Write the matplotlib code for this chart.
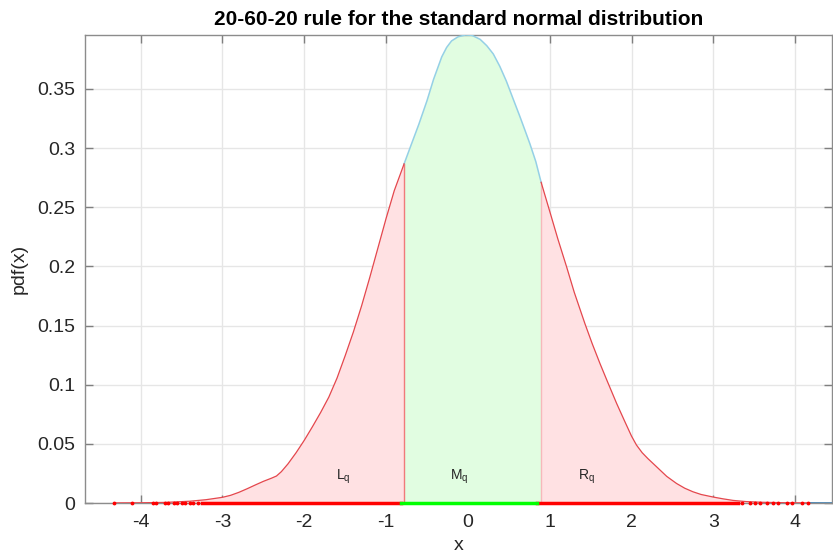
## 20-60-20 rule plot for the standard normal distribution

## Importing Modules
import matplotlib
matplotlib.use('Agg')
import matplotlib.pyplot as plt
import numpy as np

plt.rcParams['font.family'] = ['Liberation Sans', 'DejaVu Sans']

## Data
# kernel density estimate of the sample (x, pdf)
x_pdf = [-4.68, -4.3, -4.0, -3.7, -3.4, -3.2, -3.0, -2.9, -2.8, -2.7, -2.6, -2.5,
         -2.4, -2.34, -2.28, -2.2, -2.1, -2.0, -1.9, -1.8, -1.7, -1.6, -1.5, -1.4,
         -1.3, -1.2, -1.1, -1.0, -0.9, -0.78, -0.7, -0.6, -0.5, -0.42, -0.32, -0.26,
         -0.2, -0.12, -0.03, 0.05, 0.15, 0.23, 0.31, 0.39, 0.47, 0.55, 0.636, 0.7,
         0.758, 0.83, 0.895, 1.0, 1.1, 1.207, 1.3, 1.43, 1.52, 1.614, 1.7, 1.818,
         1.92, 2.0, 2.06, 2.13, 2.2, 2.3, 2.43, 2.55, 2.65, 2.75, 2.85, 3.0,
         3.12, 3.24, 3.4, 3.6, 3.9, 4.16, 4.45]
y_pdf = [0.0, 0.0001, 0.0002, 0.0005, 0.0015, 0.0028, 0.0048, 0.0065, 0.009, 0.012, 0.0152, 0.0183,
         0.021, 0.0228, 0.0265, 0.033, 0.0425, 0.053, 0.0645, 0.0765, 0.0895, 0.1055, 0.1245, 0.1445,
         0.1665, 0.1905, 0.2155, 0.2405, 0.264, 0.2866, 0.3015, 0.32, 0.34, 0.358, 0.377, 0.385,
         0.3905, 0.394, 0.3955, 0.3952, 0.3918, 0.3865, 0.3795, 0.369, 0.3565, 0.342, 0.3265, 0.3145,
         0.3035, 0.2885, 0.271, 0.2465, 0.223, 0.1994, 0.178, 0.1516, 0.1345, 0.1179, 0.1035, 0.0841,
         0.0685, 0.0565, 0.049, 0.0425, 0.0375, 0.031, 0.0225, 0.0165, 0.0125, 0.0095, 0.0072, 0.005,
         0.0035, 0.0022, 0.0012, 0.0006, 0.0002, 0.0001, 0.0]

# 20% / 80% quantiles (edges of the shaded parts)
q_lo = -0.78
q_hi = 0.895

# sample points drawn as a rug on the x axis
rug_left = [-4.32, -4.10, -3.85, -3.81, -3.70, -3.66, -3.59, -3.56, -3.50, -3.46, -3.40, -3.36, -3.30]
rug_right = [3.35, 3.45, 3.51, 3.57, 3.65, 3.73, 3.79, 3.90, 3.96, 4.08, 4.16]
rug_left_dense = [-3.25, -0.82]
rug_mid = [-0.82, 0.84]
rug_right_dense = [0.84, 3.3]

x_ticks = [-4, -3, -2, -1, 0, 1, 2, 3, 4]
y_ticks = [0, 0.05, 0.1, 0.15, 0.2, 0.25, 0.3, 0.35]
y_ticklabels = ['0', '0.05', '0.1', '0.15', '0.2', '0.25', '0.3', '0.35']

x = np.array(x_pdf)
y = np.array(y_pdf)
left = x <= q_lo
mid = (x >= q_lo) & (x <= q_hi)
right = x >= q_hi

## Plotting
fig = plt.figure(figsize=(8.33, 5.57), dpi=100)
ax = fig.add_axes([85/833, 54/557, 747/833, 468/557])

# shaded regions
ax.fill_between(x[left], 0, y[left], facecolor='#ffe1e3', edgecolor='none', zorder=2)
ax.fill_between(x[mid], 0, y[mid], facecolor='#e1fde1', edgecolor='none', zorder=2)
ax.fill_between(x[right], 0, y[right], facecolor='#ffe1e3', edgecolor='none', zorder=2)
ax.plot([q_lo, q_lo], [0, y[x == q_lo][0]], color='#f07a7a', lw=1, zorder=3)
ax.plot([q_hi, q_hi], [0, y[x == q_hi][0]], color='#f7b8bb', lw=1, zorder=3)

# density curve: blue outside the sample range, light blue in the middle, red on the tails
base_l = x <= rug_left[0]
base_r = x >= rug_right[-1]
ax.plot(x[base_l], y[base_l], color='#4f86b0', lw=1.2, zorder=3)
ax.plot(x[base_r], y[base_r], color='#4f86b0', lw=1.2, zorder=3)
ax.plot(x[mid], y[mid], color='#95d0e6', lw=1.1, zorder=4)
tail_l = left & (x >= -4.3)
tail_r = right & (x <= 4.16)
ax.plot(x[tail_l], y[tail_l], color='#e4474d', lw=0.9, zorder=4)
ax.plot(x[tail_r], y[tail_r], color='#e4474d', lw=0.9, zorder=4)

# rug of the samples
ax.plot(rug_left_dense, [0, 0], color='#ff0000', lw=2.5, zorder=5, clip_on=False)
ax.plot(rug_right_dense, [0, 0], color='#ff0000', lw=2.5, zorder=5, clip_on=False)
ax.plot(rug_mid, [0, 0], color='#00ff00', lw=2.5, zorder=5, clip_on=False)
ax.plot(rug_left, np.zeros(len(rug_left)), '.', color='#ff0000', ms=3.5, zorder=5, clip_on=False)
ax.plot(rug_right, np.zeros(len(rug_right)), '.', color='#ff0000', ms=3.5, zorder=5, clip_on=False)

# region labels
ax.text(-1.61, 0.022, r'L$_\mathregular{q}$', fontsize=10, color='#262626', va='center', zorder=6)
ax.text(-0.22, 0.022, r'M$_\mathregular{q}$', fontsize=10, color='#262626', va='center', zorder=6)
ax.text(1.345, 0.022, r'R$_\mathregular{q}$', fontsize=10, color='#262626', va='center', zorder=6)

# Plot Formatting
ax.set_xlim(-4.68, 4.45)
ax.set_ylim(0, 0.3955)
ax.set_xticks(x_ticks)
ax.set_xticklabels([str(t) for t in x_ticks])
ax.set_yticks(y_ticks)
ax.set_yticklabels(y_ticklabels)
ax.tick_params(direction='in', length=6, width=1, color='#7f7f7f', labelsize=14,
               labelcolor='#262626', top=True, right=True)
ax.tick_params(axis='x', pad=8)
ax.tick_params(axis='y', pad=7)
for s in ax.spines.values():
    s.set_color('#8c8c8c')
    s.set_linewidth(1)
ax.grid(True, color='#e6e6e6', lw=1)
ax.set_axisbelow(True)
ax.set_xlabel('x', fontsize=14, color='#262626', labelpad=4)
ax.set_ylabel('pdf(x)', fontsize=14, color='#262626', labelpad=7)
ax.set_title('20-60-20 rule for the standard normal distribution', fontsize=15,
             fontweight='bold', pad=7)

fig.savefig('out.png', dpi=100)
